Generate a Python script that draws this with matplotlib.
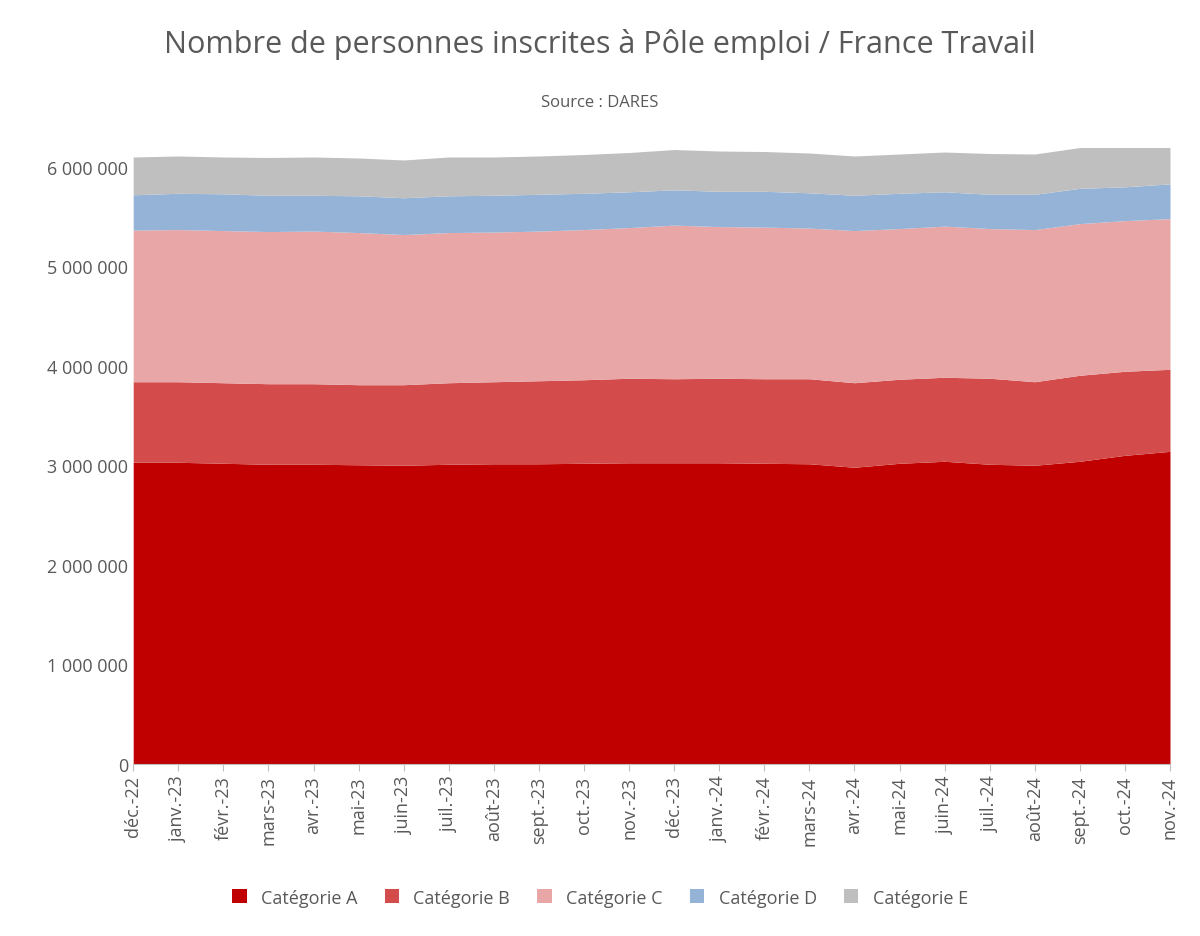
import matplotlib.pyplot as plt
from matplotlib.ticker import FuncFormatter

plt.rcParams['font.family'] = ['Open Sans', 'DejaVu Sans']

mois = ["déc.-22", "janv.-23", "févr.-23", "mars-23", "avr.-23", "mai-23", "juin-23",
        "juil.-23", "août-23", "sept.-23", "oct.-23", "nov.-23", "déc.-23", "janv.-24",
        "févr.-24", "mars-24", "avr.-24", "mai-24", "juin-24", "juil.-24", "août-24",
        "sept.-24", "oct.-24", "nov.-24"]

# valeurs cumulées (millions) : haut de chaque catégorie
cum_a = [3.03, 3.03, 3.02, 3.01, 3.01, 3.005, 3.0, 3.01, 3.015, 3.015, 3.02, 3.025,
         3.025, 3.025, 3.02, 3.015, 2.98, 3.02, 3.04, 3.01, 3.0, 3.04, 3.1, 3.14]
cum_b = [3.84, 3.84, 3.83, 3.82, 3.82, 3.81, 3.81, 3.83, 3.84, 3.85, 3.86, 3.875,
         3.87, 3.875, 3.87, 3.87, 3.83, 3.865, 3.885, 3.875, 3.84, 3.905, 3.945, 3.965]
cum_c = [5.365, 5.37, 5.36, 5.35, 5.355, 5.34, 5.32, 5.34, 5.345, 5.355, 5.37, 5.39,
         5.415, 5.40, 5.395, 5.385, 5.36, 5.38, 5.405, 5.38, 5.37, 5.43, 5.46, 5.48]
cum_d = [5.72, 5.735, 5.73, 5.715, 5.715, 5.71, 5.69, 5.71, 5.715, 5.725, 5.735, 5.75,
         5.77, 5.755, 5.755, 5.74, 5.715, 5.735, 5.75, 5.725, 5.725, 5.785, 5.80, 5.83]
cum_e = [6.10, 6.11, 6.10, 6.095, 6.10, 6.09, 6.07, 6.10, 6.10, 6.11, 6.125, 6.145,
         6.175, 6.16, 6.155, 6.14, 6.11, 6.13, 6.15, 6.135, 6.13, 6.195, 6.195, 6.195]

noms = ["Catégorie A", "Catégorie B", "Catégorie C", "Catégorie D", "Catégorie E"]
couleurs = ["#C00000", "#D44B4B", "#E8A6A6", "#95B3D7", "#BFBFBF"]

fig = plt.figure(figsize=(12, 9.37), dpi=100)
ax = fig.add_axes([0.111, 0.184, 0.864, 0.658])

x = list(range(len(mois)))
bas = [0] * len(mois)
for nom, haut, c in zip(noms, [cum_a, cum_b, cum_c, cum_d, cum_e], couleurs):
    ax.fill_between(x, [v * 1e6 for v in bas], [v * 1e6 for v in haut],
                    color=c, label=nom, linewidth=0)
    bas = haut

ax.set_xlim(0, len(mois) - 1)
ax.set_ylim(0, 6.2e6)
ax.set_yticks([i * 1e6 for i in range(7)])
ax.yaxis.set_major_formatter(FuncFormatter(lambda v, p: f"{int(v):,}".replace(",", " ")))
ax.set_xticks(x)
ax.set_xticklabels(mois, rotation=90)
ax.tick_params(axis='both', labelsize=13, colors='#595959')
ax.tick_params(axis='y', length=0)
ax.tick_params(axis='x', length=5, color='#BFBFBF')
for s in ['top', 'right', 'left']:
    ax.spines[s].set_visible(False)
ax.spines['bottom'].set_color('#BFBFBF')

fig.text(0.5, 0.953, "Nombre de personnes inscrites à Pôle emploi / France Travail",
         ha='center', va='center', fontsize=22, color='#595959')
fig.text(0.5, 0.89, "Source : DARES", ha='center', va='center', fontsize=12, color='#595959')

fig.legend(loc='center', bbox_to_anchor=(0.5, 0.041), ncol=5, frameon=False,
           fontsize=13, handlelength=0.8, handleheight=0.8, columnspacing=1.5,
           labelcolor='#595959')

fig.savefig("out.png")
